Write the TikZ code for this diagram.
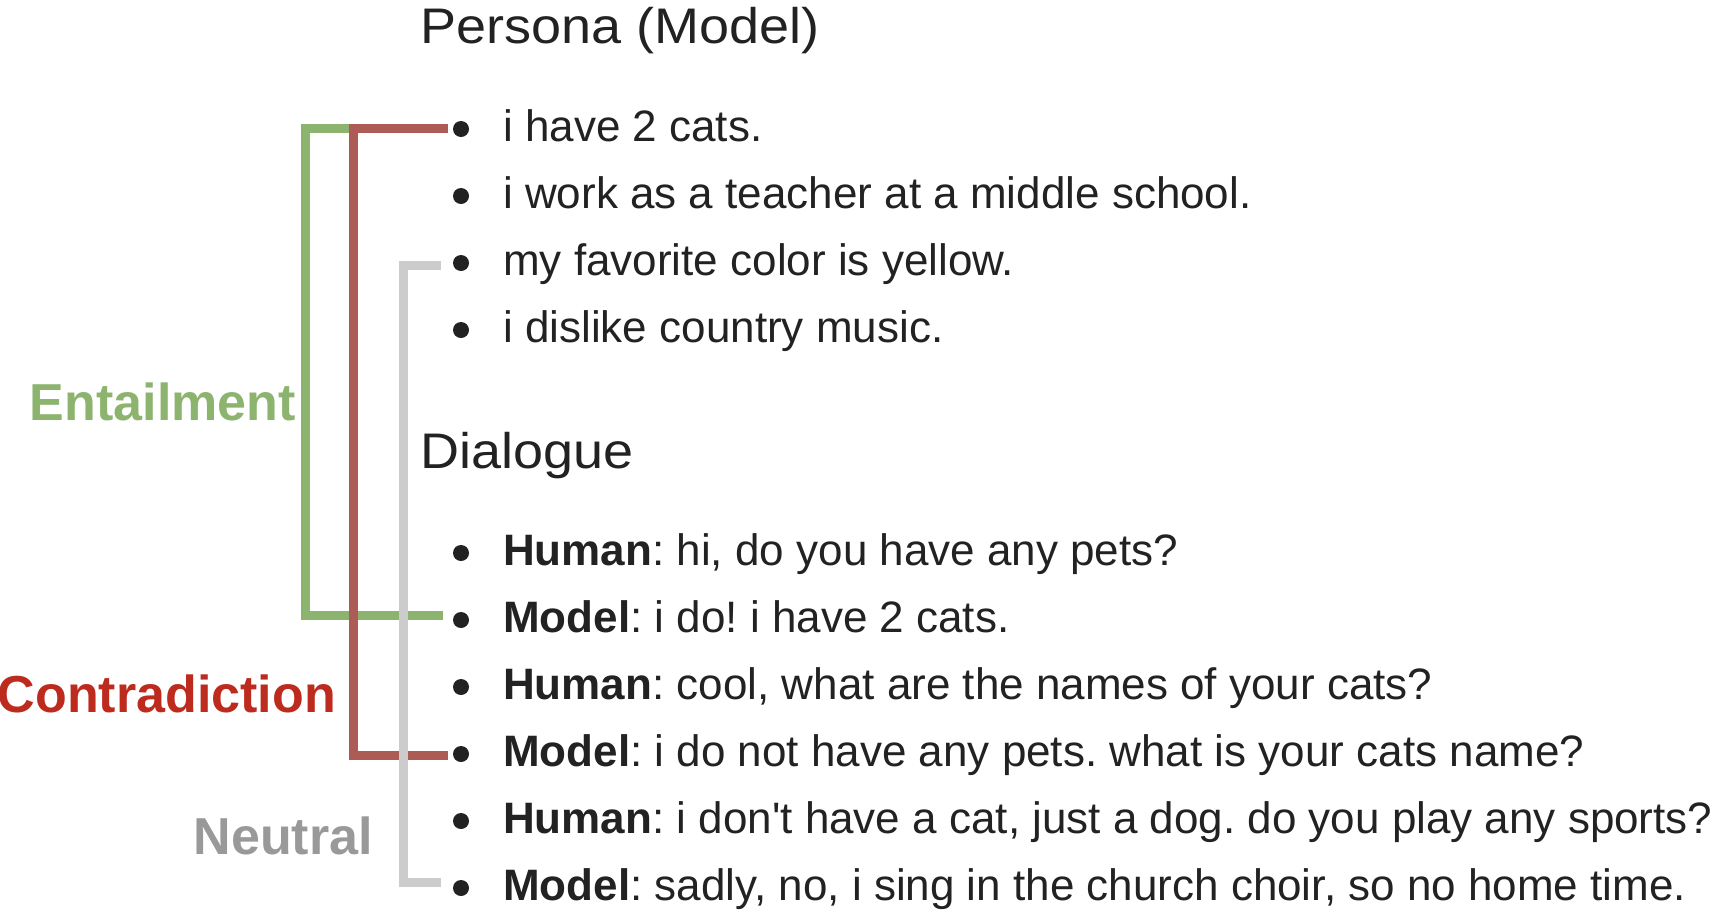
\documentclass[tikz,border=0pt]{standalone}
\usepackage{fontspec}
\setmainfont[Ligatures=TeXOff]{Liberation Sans}
\newfontfamily\titlefont[FakeStretch=1.08]{Liberation Sans}
\definecolor{txt}{HTML}{222222}
\definecolor{entl}{HTML}{8DB46E}
\definecolor{contl}{HTML}{AD5B55}
\definecolor{neutl}{HTML}{CCCCCC}
\definecolor{contt}{HTML}{BD2A1E}
\definecolor{neutt}{HTML}{999999}
\frenchspacing
\begin{document}
\begin{tikzpicture}[x=1pt,y=-1pt,
 body/.style={anchor=base west, inner sep=0pt, text=txt, font=\fontsize{44}{50}\selectfont},
 title/.style={anchor=base west, inner sep=0pt, text=txt, font=\titlefont\fontsize{50}{56}\selectfont},
 lab/.style={anchor=base east, inner sep=0pt, font=\fontsize{52}{58}\selectfont\bfseries},
 dot/.style={circle, fill=txt, inner sep=0pt, minimum size=16pt},
 link/.style={line width=9pt, line cap=butt, line join=miter}]
\useasboundingbox (0,0) rectangle (1716,916);
% titles
\node[title] (tp) at (420,43) {Persona (Model)};
\node[title] (td) at (420,468) {Dialogue};
% persona bullets
\node[dot] (b1) at (461,129) {};
\node[dot] (b2) at (461,196) {};
\node[dot] (b3) at (461,263) {};
\node[dot] (b4) at (461,330) {};
\node[body] (p1) at (503,141) {i have 2 cats.};
\node[body] (p2) at (503,208) {i work as a teacher at a middle school.};
\node[body] (p3) at (503,275) {my favorite color is yellow.};
\node[body] (p4) at (503,342) {i dislike country music.};
% dialogue bullets
\node[dot] (d1) at (461,553) {};
\node[dot] (d2) at (461,620) {};
\node[dot] (d3) at (461,687) {};
\node[dot] (d4) at (461,754) {};
\node[dot] (d5) at (461,821) {};
\node[dot] (d6) at (461,888) {};
\node[body] (u1) at (503,565) {\textbf{Human}: hi, do you have any pets?};
\node[body] (u2) at (503,632) {\textbf{Model}: i do! i have 2 cats.};
\node[body] (u3) at (503,699) {\textbf{Human}: cool, what are the names of your cats?};
\node[body] (u4) at (503,766) {\textbf{Model}: i do not have any pets. what is your cats name?};
\node[body] (u5) at (503,833) {\textbf{Human}: i don't have a cat, just a dog. do you play any sports?};
\node[body] (u6) at (503,900) {\textbf{Model}: sadly, no, i sing in the church choir, so no home time.};
% labels
\node[lab, text=entl] (le) at (296,420) {Entailment};
\node[lab, text=contt] (lc) at (336,712) {Contradiction};
\node[lab, text=neutt] (ln) at (373,854) {Neutral};
% connectors
\draw[link, entl] ([xshift=-10pt,yshift=5pt]d2.west) -- ++(-137pt,0) |- ([xshift=-5pt,yshift=1pt]b1.west);
\draw[link, contl] ([xshift=-5pt,yshift=1pt]b1.west) -- ++(-94pt,0) |- ([xshift=-5pt,yshift=-1pt]d4.west);
\draw[link, neutl] ([xshift=-12pt,yshift=-2pt]b3.west) -- ++(-37pt,0) |- ([xshift=-12pt,yshift=6pt]d6.west);
\end{tikzpicture}
\end{document}
